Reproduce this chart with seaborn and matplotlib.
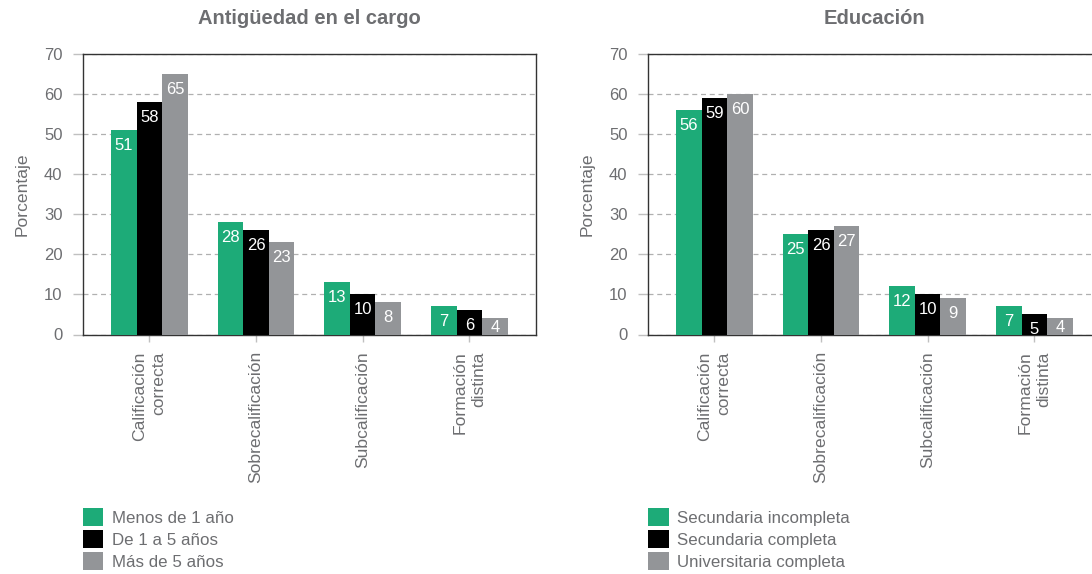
import matplotlib
matplotlib.use("Agg")
import matplotlib.pyplot as plt
from matplotlib.patches import Patch
import seaborn as sns
import pandas as pd

# ---- data -------------------------------------------------------------
categories = ["Calificación\ncorrecta", "Sobrecalificación",
              "Subcalificación", "Formación\ndistinta"]

tenure_groups = ["Menos de 1 año", "De 1 a 5 años", "Más de 5 años"]
tenure_values = [
    [51, 28, 13, 7],   # Menos de 1 año
    [58, 26, 10, 6],   # De 1 a 5 años
    [65, 23, 8, 4],    # Más de 5 años
]

education_groups = ["Secundaria incompleta", "Secundaria completa",
                    "Universitaria completa"]
education_values = [
    [56, 25, 12, 7],   # Secundaria incompleta
    [59, 26, 10, 5],   # Secundaria completa
    [60, 27, 9, 4],    # Universitaria completa
]

panel_titles = ["Antigüedad en el cargo", "Educación"]
y_label = "Porcentaje"
y_ticks = [0, 10, 20, 30, 40, 50, 60, 70]

# ---- style ------------------------------------------------------------
sns.set_theme(style="white")
plt.rcParams["font.family"] = ["Liberation Sans", "DejaVu Sans"]

TEXT = "#6d6e71"
colors = ["#1dab78", "#000000", "#939598"]


def long_form(groups, values):
    rows = []
    for g, vals in zip(groups, values):
        for c, v in zip(categories, vals):
            rows.append({"categoria": c, "grupo": g, "valor": v})
    return pd.DataFrame(rows)


fig = plt.figure(figsize=(10.92, 5.74), dpi=100)
W, H = 1092, 574
ax_bottom = 1 - 334.5 / H
ax_height = (334.5 - 54) / H
axes = [
    fig.add_axes([82.7 / W, ax_bottom, (536 - 82.7) / W, ax_height]),
    fig.add_axes([647.7 / W, ax_bottom, (1101 - 647.7) / W, ax_height]),
]

panels = [(tenure_groups, tenure_values), (education_groups, education_values)]
legend_x = [82.7 / W, 648.3 / W]

for ax, (groups, values), title, lx in zip(axes, panels, panel_titles, legend_x):
    df = long_form(groups, values)
    sns.barplot(data=df, x="categoria", y="valor", hue="grupo",
                order=categories, hue_order=groups, palette=colors,
                width=0.72, saturation=1, linewidth=0, errorbar=None,
                legend=False, ax=ax, zorder=3)

    ax.set_xlim(-0.625, 3.625)
    ax.set_ylim(0, 70)
    ax.set_yticks(y_ticks)
    ax.yaxis.grid(True, linestyle=(0, (4, 3)), color="#b0b0b0", linewidth=0.9, zorder=0)
    ax.set_axisbelow(True)

    for s in ax.spines.values():
        s.set_visible(True)
        s.set_color("#333333")
        s.set_linewidth(1.0)

    ax.tick_params(axis="y", which="major", left=True, length=7.5, width=1,
                   color="#c0c0c0", pad=7, labelsize=12, labelcolor=TEXT)
    ax.tick_params(axis="x", which="major", bottom=True, length=5, width=1,
                   color="#c0c0c0", pad=7, labelsize=12.6, labelcolor=TEXT)
    ax.set_xticks(range(len(categories)))
    ax.set_xticklabels(categories, rotation=90, ha="center", va="top",
                       multialignment="right", linespacing=1.3)
    ax.set_xlabel("")
    ax.set_ylabel(y_label, fontsize=12.6, color=TEXT, labelpad=10)

    ax.set_title(title, fontsize=14.5, fontweight="bold", color=TEXT, pad=21.5)

    # value labels in white inside the top of each bar
    for container, vals in zip(ax.containers, values):
        for bar, v in zip(container.patches, vals):
            x = bar.get_x() + bar.get_width() / 2
            if v >= 5:
                ax.annotate(f"{v}", xy=(x, v), xytext=(0, -19.5),
                            textcoords="offset pixels", ha="center",
                            va="baseline", color="white", fontsize=12, zorder=4)
            else:
                ax.annotate(f"{v}", xy=(x, 0), xytext=(0, 2),
                            textcoords="offset pixels", ha="center",
                            va="baseline", color="white", fontsize=12, zorder=4)

    handles = [Patch(facecolor=c, edgecolor="none") for c in colors]
    fig.legend(handles, groups, loc="upper left",
               bbox_to_anchor=(lx, 1 - 508 / H), frameon=False,
               fontsize=12.2, labelcolor=TEXT, borderpad=0, borderaxespad=0,
               handlelength=1.2, handleheight=1.25, handletextpad=0.5,
               labelspacing=0.25)

fig.savefig("out.png", dpi=100)
